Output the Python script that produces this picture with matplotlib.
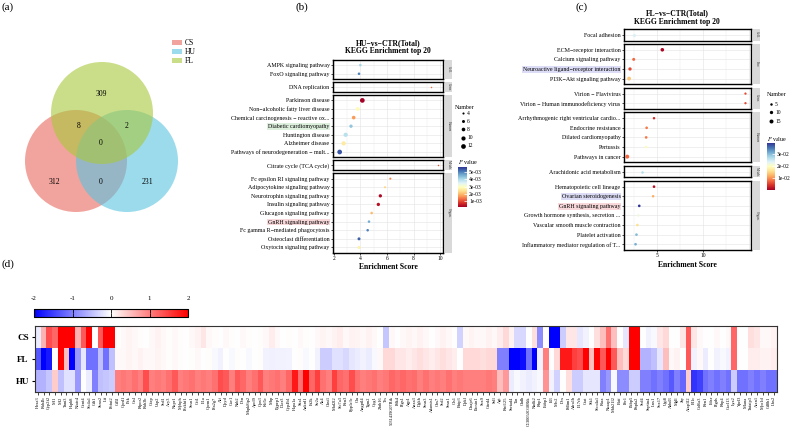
import numpy as np
import matplotlib
matplotlib.use('Agg')
import matplotlib.pyplot as plt
from matplotlib.patches import Circle, Rectangle
from matplotlib.colorbar import ColorbarBase
from matplotlib import colors

plt.rcParams['font.family'] = ['Liberation Serif', 'DejaVu Serif']
plt.rcParams['mathtext.fontset'] = 'stix'
plt.rcParams['axes.unicode_minus'] = False

W, H = 794, 436

# ---------------- (a) Venn counts
venn_names = ['CS', 'HU', 'FL']
venn_colors = ['#E8675C', '#5BC3E0', '#A8C83C']
only_cs, only_hu, only_fl = 312, 231, 309
cs_fl, fl_hu, cs_hu, all_three = 8, 2, 0, 0

# ---------------- (b) HU vs CTR
b_terms = ['AMPK signaling pathway', 'FoxO signaling pathway',
           'DNA replication',
           'Parkinson disease', 'Non\u2212alcoholic fatty liver disease',
           'Chemical carcinogenesis \u2212 reactive ox...', 'Diabetic cardiomyopathy',
           'Huntington disease', 'Alzheimer disease',
           'Pathways of neurodegeneration \u2212 mult...',
           'Citrate cycle (TCA cycle)',
           'Fc epsilon RI signaling pathway', 'Adipocytokine signaling pathway',
           'Neurotrophin signaling pathway', 'Insulin signaling pathway',
           'Glucagon signaling pathway', 'GnRH signaling pathway',
           'Fc gamma R\u2212mediated phagocytosis', 'Osteoclast differentiation',
           'Oxytocin signaling pathway']
b_group = ['Cell.', 'Cell.', 'Gene.', 'Human', 'Human', 'Human', 'Human', 'Human',
           'Human', 'Human', 'Metab.', 'Organ.', 'Organ.', 'Organ.', 'Organ.',
           'Organ.', 'Organ.', 'Organ.', 'Organ.', 'Organ.']
b_score = [4.0, 3.9, 9.3, 4.15, 3.8, 3.5, 3.3, 2.9, 2.75, 2.45, 9.85,
           6.25, 5.85, 5.5, 5.35, 4.85, 4.65, 4.55, 3.9, 3.9]
b_count = [5, 5, 3, 12, 9, 8, 7, 10, 10, 12, 3, 4, 4, 7, 7, 5, 5, 5, 6, 6]
b_pval = [0.0041, 0.0050, 0.0013, 0.0002, 0.0029, 0.0017, 0.0043, 0.0039, 0.0026, 0.0054,
          0.0011, 0.0015, 0.0023, 0.0003, 0.0004, 0.0020, 0.0046, 0.0050, 0.0053, 0.0027]
b_highlight = {'Diabetic cardiomyopathy': '#DDEFDD', 'GnRH signaling pathway': '#F8D8DA'}

# ---------------- (c) FL vs CTR
c_terms = ['Focal adhesion',
           'ECM\u2212receptor interaction', 'Calcium signaling pathway',
           'Neuroactive ligand\u2212receptor interaction', 'PI3K\u2212Akt signaling pathway',
           'Virion \u2212 Flavivirus', 'Virion \u2212 Human immunodeficiency virus',
           'Arrhythmogenic right ventricular cardio...', 'Endocrine resistance',
           'Dilated cardiomyopathy', 'Pertussis', 'Pathways in cancer',
           'Arachidonic acid metabolism',
           'Hematopoietic cell lineage', 'Ovarian steroidogenesis', 'GnRH signaling pathway',
           'Growth hormone synthesis, secretion ...', 'Vascular smooth muscle contraction',
           'Platelet activation', 'Inflammatory mediator regulation of T...']
c_group = ['Cell.', 'Env.', 'Env.', 'Env.', 'Env.', 'Gene.', 'Gene.', 'Human', 'Human',
           'Human', 'Human', 'Human', 'Metab.', 'Organ.', 'Organ.', 'Organ.', 'Organ.',
           'Organ.', 'Organ.', 'Organ.']
c_score = [2.5, 5.6, 2.5, 2.1, 2.0, 14.6, 14.6, 4.7, 3.9, 3.85, 3.85, 1.8, 3.4,
           4.7, 4.6, 3.1, 3.0, 2.9, 2.8, 2.7]
c_count = [9, 12, 8, 10, 14, 4, 4, 5, 6, 6, 5, 15, 5, 6, 5, 6, 5, 6, 6, 6]
c_pval = [0.024, 0.001, 0.008, 0.006, 0.014, 0.006, 0.006, 0.004, 0.009, 0.009, 0.019,
          0.008, 0.027, 0.002, 0.012, 0.039, 0.022, 0.016, 0.030, 0.031]
c_highlight = {'Neuroactive ligand\u2212receptor interaction': '#DCDCF6',
               'Ovarian steroidogenesis': '#DCDCF6', 'GnRH signaling pathway': '#F8D8DA'}

# ---------------- (d) heatmap
rows = ['CS', 'FL', 'HU']
genes = ['Hoxa3', 'Rab4b', 'Cyp2f2', 'Mt1', 'Mt2', 'Tnni3', 'Hspb8', 'Nfatc4', 'Gcnt4', 'Slc4a1',
         'Cdt1', 'Sbno2', 'Lif', 'Pofut2', 'Cd5l', 'Oprd1', 'Pxk', 'Ctsl', 'Ripor2', 'Rab3b',
         'Gfap', 'Usp2', 'Scd1', 'Acy3', 'Nupr1', 'Mybph', 'Plekhf1', 'Sesn1', 'Gfi1', 'Il1a',
         'Oprm1', 'Pla2g7', 'Alf', 'Dpyd', 'Cav1', 'Nab2', 'Dcn', 'Mapk8ip2', 'Apol9', 'Opn3',
         'Kif5c', 'Mbp', 'Pgpep1', 'Dscr3', 'Cyp4b1', 'Hspa1a', 'Ska1', 'Ankrd1', 'Ef2k', 'Sv2a',
         'Ak4', 'Chst1', 'Mad2l2', 'Slc7a3', 'Rcn3', 'Ppp1r3c', 'Clu', 'Angptl4', 'Tgm2', 'Gyg1',
         'Zbtb16', 'Tes', '5031439G07Rik', 'Pdk4', 'Ptgs1', 'Aqp1', 'Anxa3', 'Dgkh', 'Sesn3', 'Adamts1',
         'Cbx7', 'Scd2', 'Srxn1', 'Cls1', 'Bnip3', 'Dpkl', 'Dnajc6', 'Pacsin1', 'Sox9', 'Cited4',
         'Sell', 'Agt', 'Rnf125', 'Sertad4', 'Tsn', 'Chdh', 'C130050O18Rik', 'Nadk2', 'Rbp1', 'Fubp1',
         'Id3', 'Mrc2', 'Dcx', 'Pdlim1', 'Adra1b', 'Il17rb', 'Crat', 'Sik1', 'Slco4a1', 'Rara',
         'Nusap1', 'Mab21l2', 'Batf', 'Per1', 'Fkbp5', 'Pnpla2', 'Scd4', 'Septin4', 'Lnx1', 'Sox17',
         'Ugt8', 'Abhd3', 'Mgll', 'Jhy', 'Afap1l2', 'Bl1c', 'Col6a3', 'Ren1', 'Fdxr', 'Ptgds',
         'Rbp4', 'Cxcl13', 'Lyz2', 'Ypel3', 'Mlana', 'Tnfaip3', 'Atxn1', 'Myo1d', 'Cd8b1', 'Lhx2']

cs_z = [-0.15, 0.6, 1.4, 1.2, 2.0, 2.0, 2.0, 0.6, 1.3, 2.0,
        0.0, 1.3, 2.0, 2.0, 0.02, 0.05, 0.08, 0.05, 0.03, 0.0,
        0.05, 0.1, 0.05, 0.02, 0.05, 0.03, 0.0, 0.05, 0.1, 0.2,
        0.05, 0.03, 0.0, 0.05, 0.02, 0.0, 0.05, 0.03, 0.0, 0.02,
        0.05, 0.15, 0.05, 0.0, 0.03, 0.0, 0.05, 0.02, 0.0, 0.05,
        0.08, 0.05, 0.1, 0.15, 0.05, 0.1, 0.08, 0.05, 0.1, 0.05,
        0.0, -0.45, 0.05, 0.0, 0.05, 0.08, 0.05, 0.1, 0.05, 0.0,
        0.05, 0.1, 0.05, 0.0, -0.35, 0.05, 0.08, 0.05, 0.05, 0.1,
        0.05, 0.15, 0.3, 0.1, -0.3, -0.3, 0.0, 0.25, -0.9, 0.0,
        -2.0, -2.0, -0.4, 0.2, 0.2, -0.2, -0.1, 0.0, 0.25, 0.5,
        1.1, 0.5, 0.0, -0.2, 2.0, 2.0, 0.0, -0.1, -0.05, 0.2,
        0.3, 0.0, 0.0, 0.2, 1.3, 0.2, 0.05, 0.0, 0.0, 0.05,
        0.0, 0.05, 1.2, 0.0, 0.0, 0.25, 0.2, 0.05, 0.05, 0.1]
fl_z = [-1.3, -2.0, -1.8, 0.0, 2.0, 0.5, -2.0, -0.8, -0.2, -1.1,
        -1.1, -0.5, -1.1, -0.5, 0.05, 0.05, 0.08, 0.05, 0.1, 0.05,
        0.05, 0.08, 0.05, 0.03, 0.05, 0.02, 0.0, 0.03, 0.05, 0.0,
        0.02, -0.05, -0.1, 0.0, -0.05, 0.02, 0.0, -0.05, 0.0, 0.02,
        -0.1, -0.12, -0.1, -0.1, -0.08, 0.0, 0.02, -0.05, 0.0, -0.1,
        -0.4, -0.4, -0.25, -0.25, -0.3, -0.2, -0.15, -0.1, -0.15, -0.05,
        0.05, 0.3, 0.3, 0.2, 0.2, 0.15, 0.2, 0.25, 0.2, 0.15,
        0.2, 0.25, 0.2, 0.15, 0.0, 0.3, 0.3, 0.3, 0.25, 0.3,
        0.3, -1.0, -1.0, -2.0, -2.0, -1.9, -1.1, -2.0, -0.1, 1.0,
        0.0, 0.3, 1.8, 1.8, 1.5, 1.4, 2.0, 0.5, 2.0, 1.3,
        2.0, 1.3, 0.5, 0.3, 2.0, 2.0, -0.6, -0.6, -0.5, -0.2,
        0.5, 0.05, 0.1, 0.0, 1.3, -0.1, 0.05, -0.15, 0.0, -0.1,
        -0.05, -0.1, 1.2, 0.0, 0.0, 0.15, 0.15, 0.1, 0.1, 0.15]
hu_z = [-0.6, -0.6, -0.45, 0.4, -0.5, -0.25, -0.25, -0.8, 0.0, -0.15,
        -1.0, -0.5, -0.45, -0.4, 1.0, 1.05, 1.0, 1.1, 1.0, 1.4,
        1.0, 1.05, 1.0, 1.1, 1.3, 1.0, 1.05, 1.1, 1.0, 1.05,
        1.0, 1.1, 1.4, 1.3, 1.0, 1.3, 1.2, 1.0, 1.1, 1.3,
        1.0, 1.05, 1.1, 1.0, 1.2, 1.8, 1.1, 2.0, 1.2, 1.5,
        1.1, 1.0, 1.5, 1.2, 1.1, 1.4, 1.1, 1.0, 1.05, 1.1,
        1.0, 1.05, 1.2, 1.1, 1.2, 1.1, 1.15, 1.0, 1.1, 1.0,
        1.05, 1.0, 1.1, 1.0, 1.05, 1.0, 1.0, 1.0, 1.0, 1.05,
        1.0, 0.5, 0.8, -0.15, -0.05, -0.1, -0.15, -0.1, -0.05, 0.85,
        -0.1, -0.35, 0.0, 0.25, -0.4, -0.4, -0.2, -0.2, -0.2, -1.0,
        -0.8, -0.05, -0.9, -0.9, -0.4, -0.4, -1.0, -1.0, -1.1, -1.0,
        -1.1, -1.3, -1.0, -1.2, 0.4, -1.6, -1.5, -1.1, -1.0, -1.1,
        -1.0, -1.1, -0.4, -1.1, -1.1, -1.0, -1.1, -1.0, -1.1, -1.1]

fig = plt.figure(figsize=(W / 100, H / 100), dpi=100)


def px(x0, y0, x1, y1):
    return [x0 / W, 1 - y1 / H, (x1 - x0) / W, (y1 - y0) / H]


base = fig.add_axes([0, 0, 1, 1])
base.set_xlim(0, W)
base.set_ylim(H, 0)
base.axis('off')

for lab, (x, y) in zip(['(a)', '(b)', '(c)', '(d)'], [(2, 7.5), (296, 7.5), (575, 7.5), (2, 264)]):
    base.text(x, y, lab, fontsize=8, va='center', ha='left')

# venn
r = 51
centers = {'CS': (76, 161), 'HU': (127, 161), 'FL': (102, 113)}
for name, col in zip(venn_names, venn_colors):
    base.add_patch(Circle(centers[name], r, facecolor=col, alpha=0.6, edgecolor='none'))
vtxt = [(101, 94, only_fl), (79, 126, cs_fl), (127, 126, fl_hu), (101, 143, all_three),
        (54, 182, only_cs), (101, 182, cs_hu), (147, 182, only_hu)]
for x, y, v in vtxt:
    base.text(x, y, str(v), fontsize=5.5, ha='center', va='center')
for k, (name, col) in enumerate(zip(['CS', 'HU', 'FL'], venn_colors)):
    yy = 43 + k * 9
    base.add_patch(Rectangle((172, yy - 2.5), 10, 5, facecolor=col, alpha=0.6, edgecolor='none'))
    base.text(185, yy, name, fontsize=5.5, va='center')

cmap = plt.get_cmap('RdYlBu')


def facets(terms, groups, scores, counts, pvals, left, right, top, row_h, gap, xlim, xticks,
           vmin, vmax, sfun, hl, strip_x):
    cats = list(dict.fromkeys(groups))
    y = top
    ax = None
    step = (xticks[1] - xticks[0]) / 2
    for ci, cat in enumerate(cats):
        idx = [i for i, g in enumerate(groups) if g == cat]
        n = len(idx)
        h = (n + 0.2) * row_h
        ax = fig.add_axes(px(left, y, right, y + h))
        ax.set_xlim(xlim)
        ax.set_ylim(n - 0.4, -0.6)
        for xv in np.arange(xticks[0] - step, xlim[1], step):
            ax.axvline(xv, color='#E3E3E3', lw=0.4 if xv in xticks else 0.25, zorder=0)
        for k in range(n):
            ax.axhline(k, color='#E3E3E3', lw=0.4, zorder=0)
        ax.scatter([scores[i] for i in idx], range(n), s=[sfun(counts[i]) for i in idx],
                   c=[pvals[i] for i in idx], cmap=cmap, vmin=vmin, vmax=vmax, zorder=3,
                   linewidths=0)
        ax.set_yticks(range(n))
        ax.set_yticklabels([terms[i] for i in idx], fontsize=4.3)
        for t in ax.get_yticklabels():
            if t.get_text() in hl:
                t.set_bbox(dict(facecolor=hl[t.get_text()], edgecolor='none', pad=0.6))
        ax.tick_params(axis='y', length=1.5, width=0.5, pad=1)
        ax.set_xticks(xticks)
        ax.tick_params(axis='x', length=1.5, width=0.5, pad=1, labelsize=4)
        if ci < len(cats) - 1:
            ax.set_xticklabels([])
            ax.tick_params(axis='x', length=0)
        for s in ax.spines.values():
            s.set_linewidth(1.0)
        st = fig.add_axes(px(strip_x, y, strip_x + 7, y + h))
        st.set_facecolor('#D9D9D9')
        st.set_xticks([])
        st.set_yticks([])
        for s in st.spines.values():
            s.set_visible(False)
        st.text(0.5, 0.5, cat, rotation=270, fontsize=2.5, ha='center', va='center',
                transform=st.transAxes, color='#333333')
        y += h + gap
    return ax


def pcolorbar(rect, vmin, vmax, ticks, labels, title_xy):
    cax = fig.add_axes(px(*rect))
    cb = ColorbarBase(cax, cmap=cmap, norm=colors.Normalize(vmin, vmax), orientation='vertical')
    cb.set_ticks(ticks)
    cb.set_ticklabels(labels)
    cb.outline.set_visible(False)
    cax.tick_params(direction='in', color='white', length=2, width=0.5, labelsize=4, pad=1.5)
    base.text(title_xy[0], title_xy[1], r'$P$ value', fontsize=4.3, va='center')


# (b)
base.text(388, 43, 'HU\u2212vs\u2212CTR(Total)', fontsize=5.5, weight='bold', ha='center', va='center')
base.text(388, 51, 'KEGG Enrichment top 20', fontsize=5.5, weight='bold', ha='center', va='center')
axb = facets(b_terms, b_group, b_score, b_count, b_pval, 333, 443, 60, 8.6, 3.0, (1.95, 10.2),
             [2, 4, 6, 8, 10], 0.0002, 0.0057, lambda n: 1.15 * n - 2.3, b_highlight, 445)
axb.set_xlabel('Enrichment Score', fontsize=5.5, weight='bold', labelpad=1.5)
base.text(455, 107, 'Number', fontsize=4.3, va='center')
for k, n in enumerate([4, 6, 8, 10, 12]):
    yy = 113 + k * 8.2
    base.scatter(463, yy, s=1.15 * n - 2.3, color='black', linewidths=0)
    base.text(467, yy, str(n), fontsize=4, va='center')
pcolorbar((458, 167, 467, 207), 0.0002, 0.0057, [0.001, 0.002, 0.003, 0.004, 0.005],
          ['1e-03', '2e-03', '3e-03', '4e-03', '5e-03'], (458, 162))

# (c)
base.text(677, 13, 'FL\u2212vs\u2212CTR(Total)', fontsize=5.5, weight='bold', ha='center', va='center')
base.text(677, 22, 'KEGG Enrichment top 20', fontsize=5.5, weight='bold', ha='center', va='center')
axc = facets(c_terms, c_group, c_score, c_count, c_pval, 624, 751, 29, 9.6, 3.5, (1.45, 15.2),
             [5, 10, 15], 0.0005, 0.039, lambda n: 0.5 * n + 0.7, c_highlight, 753)
axc.set_xticks([5, 10])
axc.set_xlabel('Enrichment Score', fontsize=5.5, weight='bold', labelpad=1.5)
base.text(767, 94, 'Number', fontsize=4.3, va='center')
for k, n in enumerate([5, 10, 15]):
    yy = 104 + k * 8.5
    base.scatter(770.5, yy, s=0.5 * n + 0.7, color='black', linewidths=0)
    base.text(775, yy, str(n), fontsize=4, va='center')
pcolorbar((767, 143, 775, 190), 0.0005, 0.039, [0.01, 0.02, 0.03],
          ['1e-02', '2e-02', '3e-02'], (767, 139))

# (d) heatmap
axh = fig.add_axes(px(35, 326, 777, 392))
mat = np.array([cs_z, fl_z, hu_z])
axh.imshow(mat, cmap='bwr', vmin=-2, vmax=2, aspect='auto', interpolation='nearest')
axh.set_yticks(range(len(rows)))
axh.set_yticklabels(rows, fontsize=6.5, weight='bold')
axh.set_xticks(range(len(genes)))
axh.set_xticklabels(genes, rotation=90, fontsize=3.2)
axh.tick_params(axis='x', length=2, width=0.5, pad=1)
axh.tick_params(axis='y', length=2.5, width=0.8, pad=2)
for s in axh.spines.values():
    s.set_linewidth(0.8)
    s.set_color('#333333')

cax = fig.add_axes(px(34, 309, 188, 317))
cb = ColorbarBase(cax, cmap=plt.get_cmap('bwr'), norm=colors.Normalize(-2, 2), orientation='horizontal')
cb.set_ticks([-2, -1, 0, 1, 2])
cax.xaxis.set_ticks_position('top')
cax.tick_params(axis='x', direction='in', length=3, width=0.6, labelsize=5, pad=6, top=True, bottom=True)
cb.outline.set_linewidth(0.8)

fig.savefig('out.png', dpi=100)
